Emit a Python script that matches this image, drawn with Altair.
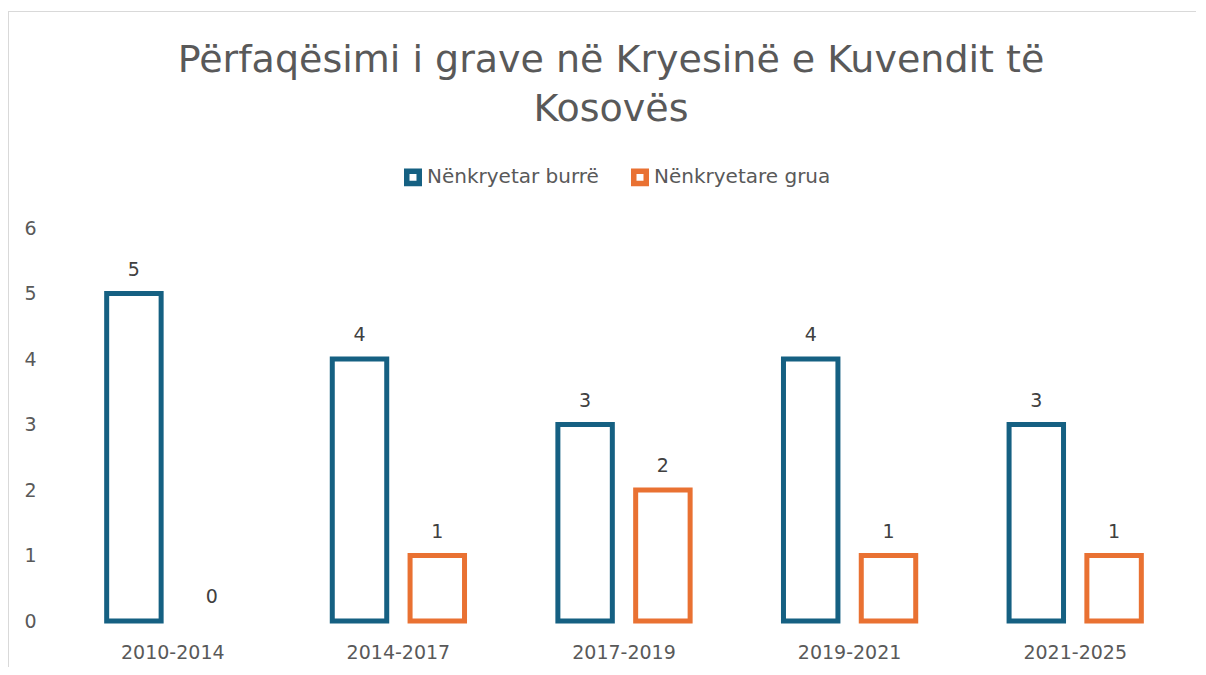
import altair as alt
import pandas as pd

periods = ["2010-2014", "2014-2017", "2017-2019", "2019-2021", "2021-2025"]
series_names = ["Nënkryetar burrë", "Nënkryetare grua"]
men = [5, 4, 3, 4, 3]
women = [0, 1, 2, 1, 1]
colors = ["#156082", "#E97132"]

rows = []
for i, p in enumerate(periods):
    rows.append({"period": p, "series": series_names[0], "value": men[i]})
    rows.append({"period": p, "series": series_names[1], "value": women[i]})
df = pd.DataFrame(rows)

FONT = "DejaVu Sans"

x_enc = alt.X("period:N", sort=periods, title=None,
              scale=alt.Scale(paddingInner=0, paddingOuter=0),
              axis=alt.Axis(labelAngle=0, domain=False, ticks=False, labelFontSize=19,
                            labelColor="#595959", labelFont=FONT, labelPadding=22))
xo_enc = alt.XOffset("series:N", sort=series_names,
                     scale=alt.Scale(paddingInner=0.3, paddingOuter=0.6))
y_enc = alt.Y("value:Q", title=None,
              scale=alt.Scale(domain=[0, 6], nice=False),
              axis=alt.Axis(domain=False, ticks=False, grid=False, tickCount=6,
                            labelFontSize=19, labelColor="#595959", labelFont=FONT,
                            labelPadding=24))
stroke_enc = alt.Stroke("series:N", sort=series_names,
                        scale=alt.Scale(domain=series_names, range=colors),
                        legend=alt.Legend(title=None, orient="none", direction="horizontal",
                                          legendX=343, legendY=-61, symbolType="square",
                                          symbolSize=156, symbolStrokeWidth=5.5,
                                          symbolFillColor="white", labelFontSize=20,
                                          labelColor="#595959", labelFont=FONT,
                                          labelLimit=0, labelOffset=4, columnPadding=23,
                                          padding=0))

bars = alt.Chart(df).transform_filter("datum.value > 0").mark_bar(
    strokeWidth=5, fill="white"
).encode(x=x_enc, xOffset=xo_enc, y=y_enc, stroke=stroke_enc)

labels = alt.Chart(df).mark_text(
    fontSize=19, color="#404040", font=FONT, baseline="middle", dy=-24
).encode(x=alt.X("period:N", sort=periods), xOffset=alt.XOffset("series:N", sort=series_names),
         y="value:Q", text="value:Q")

border_top = alt.Chart(df).mark_rule(color="#d9d9d9", strokeWidth=1).encode(
    x=alt.value(-51.5), x2=alt.value(1160), y=alt.value(-216.5))
border_left = alt.Chart(df).mark_rule(color="#d9d9d9", strokeWidth=1).encode(
    x=alt.value(-51.5), y=alt.value(-216.5), y2=alt.value(470))

chart = alt.layer(border_top, border_left, bars, labels).properties(
    width=1128, height=393,
    background="white",
    autosize=alt.AutoSizeParams(type="none"),
    padding={"left": 52, "top": 220, "right": 8, "bottom": 46},
    title=alt.Title(["Përfaqësimi i grave në Kryesinë e Kuvendit të", "Kosovës"],
                    fontSize=38, lineHeight=49, color="#595959", font=FONT,
                    fontWeight="normal", anchor="middle", dx=-13, offset=-118),
).configure_view(stroke=None)

chart.save("out.html", embed_options={"renderer": "svg", "actions": False})
